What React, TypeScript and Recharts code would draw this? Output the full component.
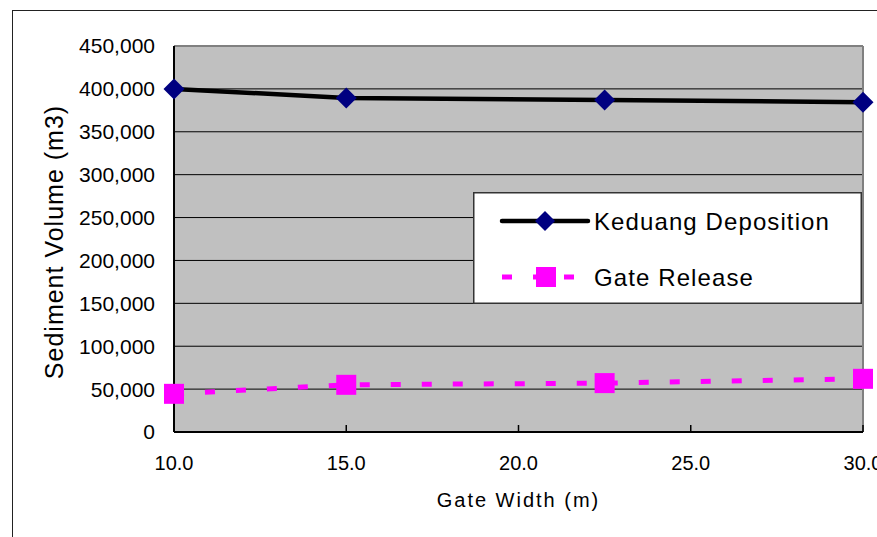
import {
  CartesianGrid,
  Legend,
  Line,
  LineChart,
  ReferenceLine,
  XAxis,
  YAxis,
} from "recharts";

const gateWidths = [10, 15, 22.5, 30];
const keduangDeposition = [400000, 389500, 387000, 384500];
const gateRelease = [44500, 55000, 57000, 62000];
const xTicks = [10, 15, 20, 25, 30];
const yTicks = [0, 50000, 100000, 150000, 200000, 250000, 300000, 350000, 400000, 450000];
const seriesOrder = ["keduang", "gate"];

const data = gateWidths.map((w, i) => ({
  width: w,
  keduang: keduangDeposition[i],
  gate: gateRelease[i],
}));

const LABEL_FONT = "'Liberation Sans', Arial, sans-serif";

function DiamondDot(props: any) {
  const { cx, cy, index } = props;
  const r = 10.5;
  return (
    <path
      key={`d-${index}`}
      d={`M${cx},${cy - r}L${cx + r},${cy}L${cx},${cy + r}L${cx - r},${cy}Z`}
      fill="#000080"
    />
  );
}

function SquareDot(props: any) {
  const { cx, cy, index } = props;
  return <rect key={`s-${index}`} x={cx - 10} y={cy - 10} width={20} height={20} fill="#ff00ff" />;
}

function XTick(props: any) {
  const { x, y, payload } = props;
  return (
    <g>
      <line x1={x} x2={x} y1={y} y2={y - 7} stroke="#000" strokeWidth={1.5} />
      <text x={x} y={y + 38} textAnchor="middle" fontSize={20} fontFamily={LABEL_FONT} fill="#000">
        {Number(payload.value).toFixed(1)}
      </text>
    </g>
  );
}

function YLabel(props: any) {
  const { viewBox } = props;
  const cx = viewBox.x + 63;
  const cy = viewBox.y + viewBox.height / 2 + 3;
  return (
    <text
      x={cx}
      y={cy}
      transform={`rotate(-90, ${cx}, ${cy})`}
      textAnchor="middle"
      fontSize={25}
      letterSpacing={1}
      fontFamily={LABEL_FONT}
      fill="#000"
    >
      Sediment Volume (m3)
    </text>
  );
}

function LegendBox({ payload }: any) {
  const items = [...(payload ?? [])].sort(
    (a: any, b: any) => seriesOrder.indexOf(a.dataKey) - seriesOrder.indexOf(b.dataKey)
  );
  return (
    <svg width={389} height={112} style={{ display: "block" }}>
      <rect x={0.75} y={0.75} width={387.5} height={110.5} fill="#fff" stroke="#333" strokeWidth={1.5} />
      {items.map((item: any, i: number) => {
        const cy = i === 0 ? 29 : 85;
        const isKeduang = item.dataKey === "keduang";
        return (
          <g key={item.value}>
            {isKeduang ? (
              <>
                <line x1={29} x2={115} y1={cy} y2={cy} stroke="#000" strokeWidth={4.5} strokeLinecap="round" />
                <path d={`M72,${cy - 10}L82,${cy}L72,${cy + 10}L62,${cy}Z`} fill="#000080" />
              </>
            ) : (
              <>
                <line x1={29} x2={105} y1={cy} y2={cy} stroke="#ff00ff" strokeWidth={5} strokeDasharray="10 21" />
                <rect x={63} y={cy - 10} width={20} height={20} fill="#ff00ff" />
              </>
            )}
            <text x={121} y={cy + 9} fontSize={24} letterSpacing={1.1} fontFamily={LABEL_FONT} fill="#000">
              {item.value}
            </text>
          </g>
        );
      })}
    </svg>
  );
}

export default function App() {
  return (
    <div style={{ position: "absolute", left: 0, top: 0, width: 877, height: 537, background: "#fff", overflow: "hidden" }}>
      <div
        style={{
          position: "absolute",
          left: 12,
          top: 10,
          width: 900,
          height: 600,
          borderTop: "1.5px solid #222",
          borderLeft: "1.5px solid #222",
        }}
      />
      <LineChart
        width={877}
        height={537}
        data={data}
        margin={{ top: 46, right: 14, left: 0, bottom: 0 }}
        style={{ position: "absolute", left: 0, top: 0 }}
      >
        <CartesianGrid fill="#c0c0c0" fillOpacity={1} stroke="#000" strokeWidth={1} vertical={false} />
        <ReferenceLine y={450000} stroke="#808080" strokeWidth={2} />
        <ReferenceLine x={30} stroke="#808080" strokeWidth={2} />
        <XAxis
          dataKey="width"
          type="number"
          domain={[10, 30]}
          ticks={xTicks}
          height={105}
          tickSize={0}
          tickMargin={0}
          tickLine={false}
          axisLine={{ stroke: "#000", strokeWidth: 2 }}
          tick={<XTick />}
          interval={0}
          label={{
            value: "Gate Width (m)",
            position: "insideBottom",
            offset: 30,
            fontSize: 20,
            letterSpacing: 2,
            fontFamily: LABEL_FONT,
            fill: "#000",
          }}
        />
        <YAxis
          type="number"
          domain={[0, 450000]}
          ticks={yTicks}
          width={174}
          tickSize={0}
          tickMargin={19}
          tickLine={false}
          interval={0}
          axisLine={{ stroke: "#000", strokeWidth: 2 }}
          tickFormatter={(v: number) => v.toLocaleString("en-US")}
          tick={{ fontSize: 21, fontFamily: LABEL_FONT, fill: "#000" }}
          label={<YLabel />}
        />
        <Legend
          layout="horizontal"
          verticalAlign="middle"
          align="center"
          width={389}
          height={112}
          wrapperStyle={{ left: 473, top: 192, width: 389, height: 112 }}
          content={<LegendBox />}
        />
        <Line
          dataKey="keduang"
          name="Keduang Deposition"
          stroke="#000"
          strokeWidth={4.5}
          dot={<DiamondDot />}
          activeDot={false}
          isAnimationActive={false}
        />
        <Line
          dataKey="gate"
          name="Gate Release"
          stroke="#ff00ff"
          strokeWidth={5}
          strokeDasharray="10 21"
          dot={<SquareDot />}
          activeDot={false}
          isAnimationActive={false}
        />
      </LineChart>
    </div>
  );
}
